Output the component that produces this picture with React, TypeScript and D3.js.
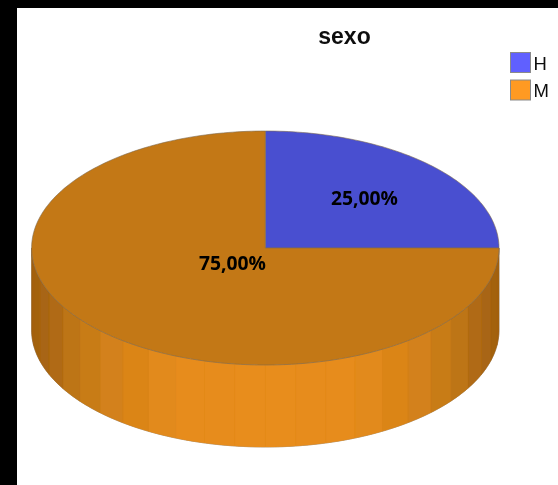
import React from "react";
import * as d3 from "d3";

const categories = ["H", "M"];
const values = [25, 75];
const labels = ["25,00%", "75,00%"];
const topColors = ["#4a50d0", "#c37815"];
const legendColors = ["#6060ff", "#ff9a20"];
const titleText = "sexo";

const W = 558, H = 485;
const cx = 265.3, cy = 248, rx = 233.7, ry = 117, depth = 82;
const sx = d3.scaleLinear().domain([-1, 1]).range([cx - rx, cx + rx]);
const sy = d3.scaleLinear().domain([-1, 1]).range([cy - ry, cy + ry]);
const px = (a: number) => sx(Math.sin(a));
const py = (a: number) => sy(-Math.cos(a));

const pie = d3.pie<number>().sort(null).startAngle(0).endAngle(2 * Math.PI);
const slices = pie(values);

function wedge(a0: number, a1: number) {
  const p = d3.path();
  p.moveTo(cx, cy);
  p.lineTo(px(a0), py(a0));
  const n = Math.ceil((a1 - a0) / 0.02);
  for (let i = 1; i <= n; i++) {
    const a = a0 + ((a1 - a0) * i) / n;
    p.lineTo(px(a), py(a));
  }
  p.closePath();
  return p.toString();
}

function band(a0: number, a1: number) {
  const p = d3.path();
  const n = Math.max(2, Math.ceil((a1 - a0) / 0.02));
  p.moveTo(px(a0), py(a0));
  for (let i = 1; i <= n; i++) {
    const a = a0 + ((a1 - a0) * i) / n;
    p.lineTo(px(a), py(a));
  }
  for (let i = n; i >= 0; i--) {
    const a = a0 + ((a1 - a0) * i) / n;
    p.lineTo(px(a), py(a) + depth);
  }
  p.closePath();
  return p.toString();
}

const stepDeg = 7.5;
const sideShade = d3.scaleLinear<string>()
  .domain([0, 0.32, 0.44, 0.55, 0.66, 0.75, 0.83, 0.89, 0.96, 1])
  .range(["#e88d1c", "#e78c1c", "#e28a1b", "#db8519", "#d3811a", "#c87b16", "#bd7414", "#b16c13", "#a66412", "#a16011"]);
const bands = d3.range(90, 270, stepDeg).map((d) => {
  const a0 = (d * Math.PI) / 180;
  const a1 = ((d + stepDeg) * Math.PI) / 180;
  const mid = (a0 + a1) / 2;
  return { a0, a1, color: sideShade(Math.abs(Math.sin(mid))) };
});

const labelPos = [
  { x: 364.5, y: 205 },
  { x: 232.5, y: 270 },
];

export default function App() {
  return (
    <svg width={W} height={H} style={{ position: "fixed", left: 0, top: 0, background: "#000" }}>
      <defs>
        <filter id="soft" x="-5%" y="-5%" width="110%" height="110%">
          <feGaussianBlur stdDeviation={0.45} />
        </filter>
      </defs>
      <rect x={17} y={8} width={W - 17} height={H - 8} fill="#fff" />
      <g filter="url(#soft)">
        <text x={344.5} y={43.5} textAnchor="middle" fontFamily="'Liberation Sans', Arial, sans-serif" fontWeight="bold" fontSize={23} fill="#111">{titleText}</text>
        {categories.map((c, i) => (
          <g key={c}>
            <rect x={510.5} y={52.5 + i * 27.5} width={20} height={20} fill={legendColors[i]} stroke="#8a8a8a" strokeWidth={1} />
            <text x={533.5} y={69.5 + i * 27} fontFamily="'Liberation Sans', Arial, sans-serif" fontSize={18.5} fill="#111">{c}</text>
          </g>
        ))}
        <path d={band(Math.PI / 2, (3 * Math.PI) / 2)} fill="#c27714" stroke="#999" strokeWidth={0.8} />
        {bands.map((b, i) => (
          <path key={i} d={band(b.a0, b.a1)} fill={b.color} stroke={b.color} strokeWidth={0.4} />
        ))}
        {slices.map((s, i) => (
          <path key={i} d={wedge(s.startAngle, s.endAngle)} fill={topColors[i]} stroke="#7d6a50" strokeWidth={0.6} />
        ))}
        {labels.map((l, i) => (
          <text key={l} x={labelPos[i].x} y={labelPos[i].y} textAnchor="middle" fontFamily="'Open Sans', 'Noto Sans', sans-serif" fontWeight="bold" fontSize={19.3} fill="#000">{l}</text>
        ))}
      </g>
    </svg>
  );
}
